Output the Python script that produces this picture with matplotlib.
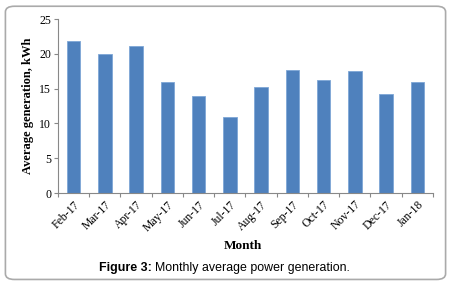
import matplotlib
matplotlib.use("Agg")
import matplotlib.pyplot as plt
from matplotlib.patches import FancyBboxPatch
import numpy as np

months = ["Feb-17", "Mar-17", "Apr-17", "May-17", "Jun-17", "Jul-17",
          "Aug-17", "Sep-17", "Oct-17", "Nov-17", "Dec-17", "Jan-18"]
generation = [21.9, 20.0, 21.1, 15.9, 13.9, 11.0, 15.2, 17.7, 16.2, 17.6, 14.3, 15.9]
yticks = [0, 5, 10, 15, 20, 25]

fig = plt.figure(figsize=(4.51, 2.84), dpi=100)
ax = fig.add_axes([0.1286, 0.320, 0.8314, 0.613])

x = np.arange(len(months))
ax.bar(x, generation, width=0.43, color="#4F81BD", edgecolor="#7EA6D6", linewidth=0.6, zorder=2)

ax.set_xlim(-0.5, len(months) - 0.5)
ax.set_ylim(0, 25)
ax.set_yticks(yticks)
ax.set_yticklabels([str(v) for v in yticks], family="Liberation Serif", fontsize=8.5)
ax.set_xticks(x)
ax.set_xticklabels(months, rotation=45, ha="right", rotation_mode="anchor",
                   family="Liberation Serif", fontsize=8.5)
ax.tick_params(axis="x", which="major", length=0, pad=4)
ax.set_xticks(np.arange(-0.5, len(months)), minor=True)
ax.tick_params(axis="x", which="minor", length=3, color="#888888", width=0.8)
ax.tick_params(axis="y", length=3, color="#888888", width=0.8, pad=2)

for s in ["top", "right"]:
    ax.spines[s].set_visible(False)
for s in ["left", "bottom"]:
    ax.spines[s].set_color("#888888")
    ax.spines[s].set_linewidth(0.8)

ax.set_ylabel("Average generation, kWh", family="Liberation Serif", fontweight="bold",
              fontsize=9, labelpad=4)
fig.text(0.538, 0.133, "Month", family="Liberation Serif", fontweight="bold",
         fontsize=9.5, ha="center", va="center")

# Caption: bold prefix followed by regular text, centred as a whole
renderer = fig.canvas.get_renderer()
cap_fs = 8.9
t1 = fig.text(0, 0.057, "Figure 3:", family="Liberation Sans", fontweight="bold",
              fontsize=cap_fs, ha="left", va="center")
t2 = fig.text(0, 0.057, "Monthly average power generation.", family="Liberation Sans",
              fontsize=cap_fs, ha="left", va="center")
w1 = t1.get_window_extent(renderer).width / fig.bbox.width
w2 = t2.get_window_extent(renderer).width / fig.bbox.width
tsp = fig.text(0, 0, "a a", fontsize=cap_fs, family="Liberation Sans")
tns = fig.text(0, 0, "aa", fontsize=cap_fs, family="Liberation Sans")
wsp = (tsp.get_window_extent(renderer).width - tns.get_window_extent(renderer).width) / fig.bbox.width
tsp.remove(); tns.remove()
total = w1 + wsp + w2
start = 0.497 - total / 2
t1.set_x(start)
t2.set_x(start + w1 + wsp)

border = FancyBboxPatch((0.012, 0.016), 0.976, 0.962, boxstyle="round,pad=0,rounding_size=0.02",
                        transform=fig.transFigure, fill=False, edgecolor="#AAAAAA", linewidth=1.2)
fig.patches.append(border)

fig.savefig("out.png", dpi=100)
